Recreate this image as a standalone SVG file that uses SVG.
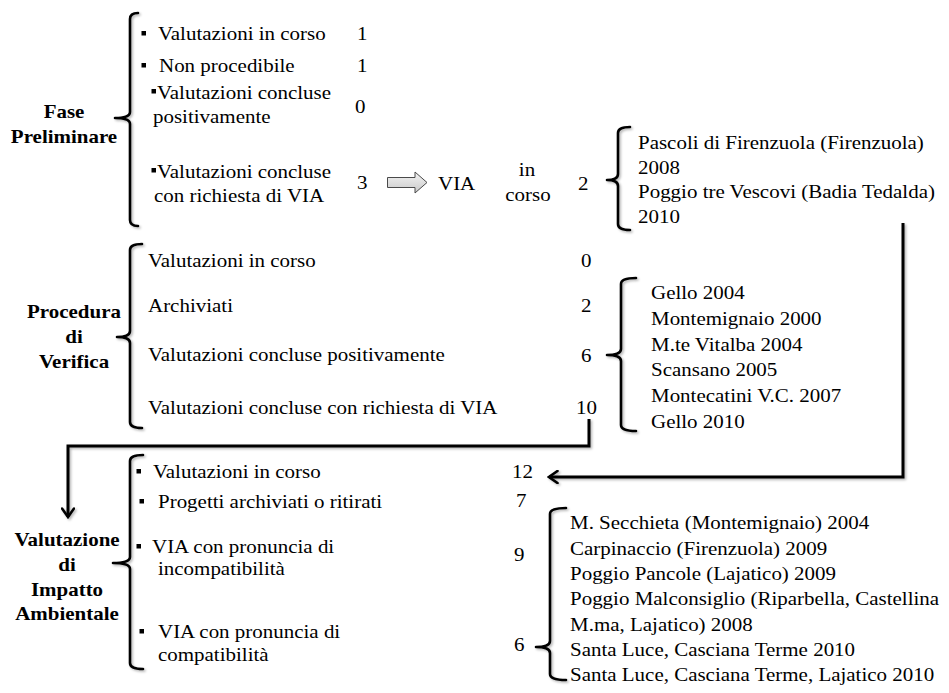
<svg xmlns="http://www.w3.org/2000/svg" width="949" height="693" viewBox="0 0 949 693">
  <defs>
    <style>
      .t { font-family: "Liberation Serif", "Times New Roman", serif; font-size: 18px; fill: #000; }
      .b { font-weight: bold; }
      .m { text-anchor: middle; }
      .brace { fill: none; stroke: #000; stroke-width: 2.6; stroke-linecap: round; stroke-linejoin: round; filter: url(#shadow); }
      .conn { fill: none; stroke: #000; stroke-width: 3; stroke-linejoin: miter; filter: url(#shadow); }
      .bullet { fill: #000; }
    </style>
    <filter id="shadow" x="-20%" y="-20%" width="140%" height="140%">
      <feDropShadow dx="1.5" dy="1.5" stdDeviation="1" flood-color="#000" flood-opacity="0.3"/>
    </filter>
    <marker id="open-arrow" viewBox="0 0 12 14" refX="10" refY="7" markerWidth="12" markerHeight="14" markerUnits="userSpaceOnUse" orient="auto">
      <path d="M1.5,1 L10,7 L1.5,13" fill="none" stroke="#000" stroke-width="2.6" stroke-linecap="round" stroke-linejoin="miter"/>
    </marker>
    <linearGradient id="arrow-fill" x1="0" y1="0" x2="0" y2="1">
      <stop offset="0" stop-color="#f4f4f4"/>
      <stop offset="1" stop-color="#c9c9c9"/>
    </linearGradient>
  </defs>
  <rect width="949" height="693" fill="#fff"/>

  <!-- Fase Preliminare -->
  <g id="fase-preliminare">
    <text class="t b m" transform="translate(64 118) scale(1.165 1)">Fase</text>
    <text class="t b m" transform="translate(64 143) scale(1.165 1)">Preliminare</text>
    <path class="brace" d="M138,13 Q130,13 130,19 L130,112 Q130,118 115,118 Q130,118 130,124 L130,220 Q130,226 138,226"/>
    <rect class="bullet" x="141.5" y="31" width="4.5" height="4.5"/>
    <text class="t" transform="translate(158 40) scale(1.165 1)">Valutazioni in corso</text>
    <text class="t" transform="translate(357 40) scale(1.165 1)">1</text>
    <rect class="bullet" x="141.5" y="63" width="4.5" height="4.5"/>
    <text class="t" transform="translate(159 72) scale(1.165 1)">Non procedibile</text>
    <text class="t" transform="translate(357 72) scale(1.165 1)">1</text>
    <rect class="bullet" x="151.5" y="89" width="4.5" height="4.5"/>
    <text class="t" transform="translate(157 99) scale(1.165 1)">Valutazioni concluse</text>
    <text class="t" transform="translate(153 123) scale(1.165 1)">positivamente</text>
    <text class="t" transform="translate(355 113) scale(1.165 1)">0</text>
    <rect class="bullet" x="151.5" y="168" width="4.5" height="4.5"/>
    <text class="t" transform="translate(157 178) scale(1.165 1)">Valutazioni concluse</text>
    <text class="t" transform="translate(154 202) scale(1.165 1)">con richiesta di VIA</text>
    <text class="t" transform="translate(357 189) scale(1.165 1)">3</text>
  </g>

  <!-- VIA in corso -->
  <g id="via-in-corso">
    <path d="M387.5,177.5 H415 V172 L427,182.5 L415,193 V187.5 H387.5 Z" fill="url(#arrow-fill)" stroke="#4a4a4a" stroke-width="1"/>
    <text class="t" transform="translate(438 190) scale(1.165 1)">VIA</text>
    <text class="t m" transform="translate(527 176) scale(1.165 1)">in</text>
    <text class="t m" transform="translate(528 201) scale(1.165 1)">corso</text>
    <text class="t" transform="translate(578 190) scale(1.165 1)">2</text>
    <path class="brace" d="M630,127 Q618,127 618,133 L618,174 Q618,180 607,180 Q618,180 618,186 L618,224 Q618,230 630,230"/>
    <text class="t" transform="translate(638 149) scale(1.165 1)">Pascoli di Firenzuola (Firenzuola)</text>
    <text class="t" transform="translate(638 173.5) scale(1.165 1)">2008</text>
    <text class="t" transform="translate(638 198) scale(1.165 1)">Poggio tre Vescovi (Badia Tedalda)</text>
    <text class="t" transform="translate(638 222.5) scale(1.165 1)">2010</text>
  </g>

  <!-- Procedura di Verifica -->
  <g id="procedura-verifica">
    <text class="t b m" transform="translate(74 318) scale(1.165 1)">Procedura</text>
    <text class="t b m" transform="translate(74 343) scale(1.165 1)">di</text>
    <text class="t b m" transform="translate(74 368) scale(1.165 1)">Verifica</text>
    <path class="brace" d="M142,244 Q130,244 130,250 L130,331 Q130,337 117,337 Q130,337 130,343 L130,422 Q130,428 142,428"/>
    <text class="t" transform="translate(148 267) scale(1.165 1)">Valutazioni in corso</text>
    <text class="t" transform="translate(581 267) scale(1.165 1)">0</text>
    <text class="t" transform="translate(148 312) scale(1.165 1)">Archiviati</text>
    <text class="t" transform="translate(581 312) scale(1.165 1)">2</text>
    <text class="t" transform="translate(148 361) scale(1.165 1)">Valutazioni concluse positivamente</text>
    <text class="t" transform="translate(581 362) scale(1.165 1)">6</text>
    <text class="t" transform="translate(148 414) scale(1.165 1)">Valutazioni concluse con richiesta di VIA</text>
    <text class="t" transform="translate(576 414) scale(1.165 1)">10</text>
  </g>

  <!-- Verifiche concluse positivamente -->
  <g id="verifiche-positive">
    <path class="brace" d="M636,278 Q621,278 621,284 L621,349 Q621,355 607,355 Q621,355 621,361 L621,425 Q621,431 636,431"/>
    <text class="t" transform="translate(651 299) scale(1.165 1)">Gello 2004</text>
    <text class="t" transform="translate(651 325) scale(1.165 1)">Montemignaio 2000</text>
    <text class="t" transform="translate(651 351) scale(1.165 1)">M.te Vitalba 2004</text>
    <text class="t" transform="translate(651 376) scale(1.165 1)">Scansano 2005</text>
    <text class="t" transform="translate(651 402) scale(1.165 1)">Montecatini V.C. 2007</text>
    <text class="t" transform="translate(651 428) scale(1.165 1)">Gello 2010</text>
  </g>

  <!-- Valutazione di Impatto Ambientale -->
  <g id="valutazione-impatto">
    <text class="t b m" transform="translate(67 546) scale(1.165 1)">Valutazione</text>
    <text class="t b m" transform="translate(67 571) scale(1.165 1)">di</text>
    <text class="t b m" transform="translate(67 596) scale(1.165 1)">Impatto</text>
    <text class="t b m" transform="translate(67 620) scale(1.165 1)">Ambientale</text>
    <path class="brace" d="M143,455 Q130,455 130,461 L130,557 Q130,563 113,563 Q130,563 130,569 L130,663 Q130,669 143,669"/>
    <rect class="bullet" x="136.5" y="469" width="4.5" height="4.5"/>
    <text class="t" transform="translate(153 478) scale(1.165 1)">Valutazioni in corso</text>
    <text class="t" transform="translate(512 478) scale(1.165 1)">12</text>
    <rect class="bullet" x="139.5" y="499" width="4.5" height="4.5"/>
    <text class="t" transform="translate(158 508) scale(1.165 1)">Progetti archiviati o ritirati</text>
    <text class="t" transform="translate(516 507) scale(1.165 1)">7</text>
    <rect class="bullet" x="136.5" y="544" width="4.5" height="4.5"/>
    <text class="t" transform="translate(152 553) scale(1.165 1)">VIA con pronuncia di</text>
    <text class="t" transform="translate(158 575) scale(1.165 1)">incompatibilità</text>
    <text class="t" transform="translate(514 561) scale(1.165 1)">9</text>
    <rect class="bullet" x="139.5" y="629" width="4.5" height="4.5"/>
    <text class="t" transform="translate(158 638) scale(1.165 1)">VIA con pronuncia di</text>
    <text class="t" transform="translate(158 661) scale(1.165 1)">compatibilità</text>
    <text class="t" transform="translate(514 651) scale(1.165 1)">6</text>
  </g>

  <!-- VIA con pronuncia di compatibilita -->
  <g id="via-compatibili">
    <path class="brace" d="M566,508 Q550,508 550,514 L550,641 Q550,647 536,647 Q550,647 550,653 L550,674 Q550,680 566,680"/>
    <text class="t" transform="translate(570 529) scale(1.165 1)">M. Secchieta (Montemignaio) 2004</text>
    <text class="t" transform="translate(570 554.5) scale(1.165 1)">Carpinaccio (Firenzuola) 2009</text>
    <text class="t" transform="translate(570 580) scale(1.165 1)">Poggio Pancole (Lajatico) 2009</text>
    <text class="t" transform="translate(570 605) scale(1.165 1)">Poggio Malconsiglio (Riparbella, Castellina</text>
    <text class="t" transform="translate(570 630.5) scale(1.165 1)">M.ma, Lajatico) 2008</text>
    <text class="t" transform="translate(570 656) scale(1.165 1)">Santa Luce, Casciana Terme 2010</text>
    <text class="t" transform="translate(570 681) scale(1.165 1)">Santa Luce, Casciana Terme, Lajatico 2010</text>
  </g>

  <!-- Connectors -->
  <g id="connectors">
    <path class="conn" d="M589,419 V446 H68 V517" marker-end="url(#open-arrow)"/>
    <path class="conn" d="M903,223 V477 H549" marker-end="url(#open-arrow)"/>
  </g>
</svg>
